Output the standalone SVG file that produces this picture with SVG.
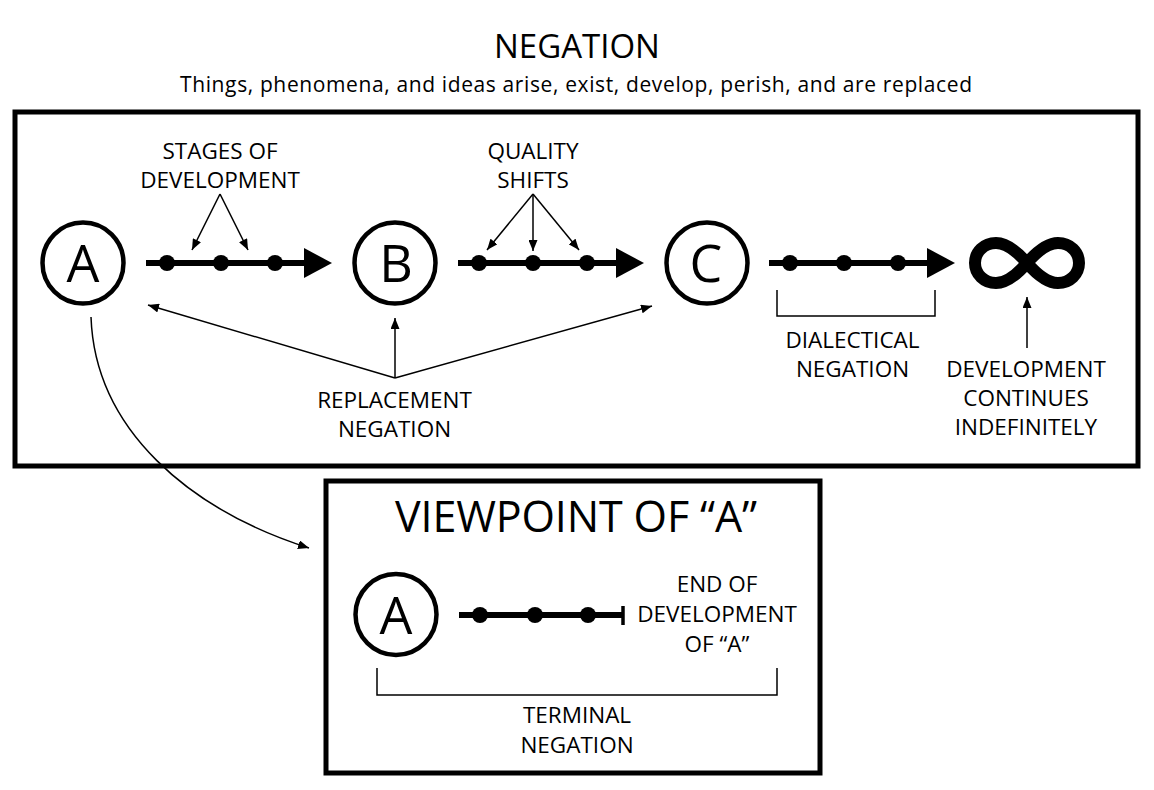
<svg xmlns="http://www.w3.org/2000/svg" width="1154" height="790" viewBox="0 0 1154 790">
  <style>
    text { font-family: "Open Sans", "Noto Sans", "Liberation Sans", sans-serif; fill: #000; text-anchor: middle; }
    .lbl { font-size: 22.5px; }
    .big { font-size: 52px; }
    .frame { fill: none; stroke: #000; stroke-width: 5; }
    .node { fill: #fff; stroke: #000; stroke-width: 4.5; }
    .thick { fill: none; stroke: #000; stroke-width: 6; }
    .dot { fill: #000; }
    .thin { fill: none; stroke: #000; stroke-width: 1.5; }
    .thinarrow { fill: none; stroke: #000; stroke-width: 1.5; marker-end: url(#ah); }
  </style>
  <defs>
    <marker id="ah" markerUnits="userSpaceOnUse" markerWidth="12" markerHeight="9" refX="11" refY="4.5" orient="auto">
      <path d="M0,0 L11,4.5 L0,9 z" fill="#000"/>
    </marker>
  </defs>
  <rect width="1154" height="790" fill="#fff"/>

  <g id="title">
    <text x="577" y="58" style="font-size:33px">NEGATION</text>
    <text x="576" y="92" style="font-size:21px" textLength="792">Things, phenomena, and ideas arise, exist, develop, perish, and are replaced</text>
  </g>

  <g id="main-frame">
    <rect class="frame" x="15" y="112" width="1123" height="354"/>
  </g>

  <g id="node-A">
    <circle class="node" cx="83" cy="263" r="40.5"/>
    <text class="big" x="83" y="282">A</text>
  </g>
  <g id="node-B">
    <circle class="node" cx="395" cy="263" r="40.5"/>
    <text class="big" x="396" y="282">B</text>
  </g>
  <g id="node-C">
    <circle class="node" cx="707" cy="263" r="40.5"/>
    <text class="big" x="706" y="282">C</text>
  </g>
  <g id="node-infinity">
    <path d="M1027 263 C1040 248 1050 243 1058 243 C1070 243 1079 252 1079 263 C1079 274 1070 283 1058 283 C1050 283 1040 278 1027 263 C1014 248 1004 243 996 243 C984 243 975 252 975 263 C975 274 984 283 996 283 C1004 283 1014 278 1027 263 Z" fill="none" stroke="#000" stroke-width="12"/>
  </g>

  <g id="labels">
    <text class="lbl" x="220" y="159">STAGES OF</text>
    <text class="lbl" x="220" y="188">DEVELOPMENT</text>
    <text class="lbl" x="533" y="159">QUALITY</text>
    <text class="lbl" x="533" y="188">SHIFTS</text>
    <text class="lbl" x="394.5" y="408">REPLACEMENT</text>
    <text class="lbl" x="394.5" y="437">NEGATION</text>
    <text class="lbl" x="852.5" y="348">DIALECTICAL</text>
    <text class="lbl" x="852.5" y="377">NEGATION</text>
    <text class="lbl" x="1026" y="377">DEVELOPMENT</text>
    <text class="lbl" x="1026" y="406">CONTINUES</text>
    <text class="lbl" x="1026" y="435">INDEFINITELY</text>
  </g>

  <g id="viewpoint-frame">
    <rect class="frame" x="326" y="481" width="494" height="292"/>
    <text x="576" y="532" style="font-size:43px" textLength="362">VIEWPOINT OF “A”</text>
  </g>
  <g id="node-A2">
    <circle class="node" cx="396" cy="614.5" r="40.5"/>
    <text class="big" x="396" y="633.5">A</text>
  </g>
  <g id="viewpoint-labels">
    <text class="lbl" x="717" y="592">END OF</text>
    <text class="lbl" x="717" y="622">DEVELOPMENT</text>
    <text class="lbl" x="717" y="652">OF “A”</text>
    <text class="lbl" x="577" y="723">TERMINAL</text>
    <text class="lbl" x="577" y="753">NEGATION</text>
  </g>

  <g id="connectors">
    <!-- A to B development -->
    <path class="thick" d="M146 263 H306"/>
    <polygon points="304,248 332,263 304,278" fill="#000"/>
    <circle class="dot" cx="167" cy="263" r="8"/>
    <circle class="dot" cx="221" cy="263" r="8"/>
    <circle class="dot" cx="275" cy="263" r="8"/>
    <!-- B to C development -->
    <path class="thick" d="M458 263 H618"/>
    <polygon points="616,248 644,263 616,278" fill="#000"/>
    <circle class="dot" cx="479" cy="263" r="8"/>
    <circle class="dot" cx="533" cy="263" r="8"/>
    <circle class="dot" cx="587" cy="263" r="8"/>
    <!-- C to infinity development -->
    <path class="thick" d="M769 263 H929"/>
    <polygon points="927,248 955,263 927,278" fill="#000"/>
    <circle class="dot" cx="790" cy="263" r="8"/>
    <circle class="dot" cx="844" cy="263" r="8"/>
    <circle class="dot" cx="898" cy="263" r="8"/>

    <!-- stages of development pointers -->
    <path class="thinarrow" d="M220 194 L192 250"/>
    <path class="thinarrow" d="M220 194 L248 250"/>
    <!-- quality shifts pointers -->
    <path class="thinarrow" d="M533 194 L487 250"/>
    <path class="thinarrow" d="M533 194 L533 251"/>
    <path class="thinarrow" d="M533 194 L579 250"/>

    <!-- replacement negation -->
    <path class="thinarrow" d="M395 378 L148 305"/>
    <path class="thinarrow" d="M395 378 L395 318"/>
    <path class="thinarrow" d="M395 378 L652 306"/>

    <!-- dialectical bracket -->
    <path class="thin" d="M777 290 V316 H935 V290"/>
    <!-- development continues -->
    <path class="thinarrow" d="M1027 348 L1027 297"/>

    <!-- curve from A to viewpoint -->
    <path class="thinarrow" d="M91 317 C95 430 190 510 309 548"/>

    <!-- viewpoint development line -->
    <path class="thick" d="M459 615 H623"/>
    <path d="M623 606 V625" stroke="#000" stroke-width="3.5"/>
    <circle class="dot" cx="480" cy="615" r="8"/>
    <circle class="dot" cx="535" cy="615" r="8"/>
    <circle class="dot" cx="588" cy="615" r="8"/>
    <!-- terminal bracket -->
    <path class="thin" d="M377 668 V695 H777 V668"/>
  </g>
</svg>
